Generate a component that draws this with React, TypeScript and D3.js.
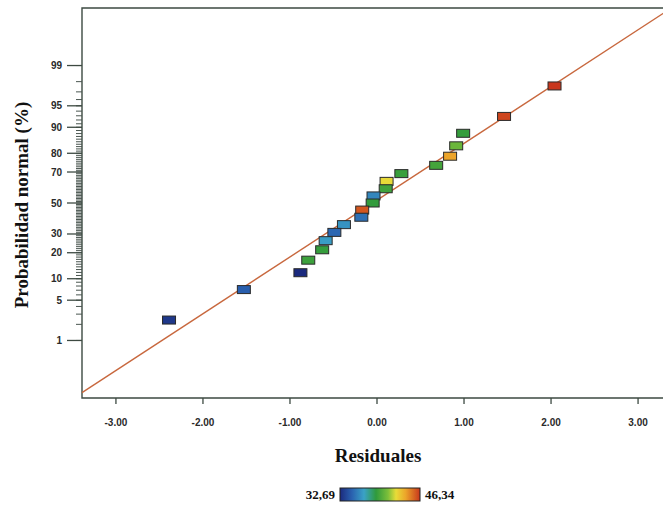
import React, { useRef, useEffect } from 'react'
import * as d3 from 'd3'

// residuals, already sorted (rank order)
const residuals = [-2.39, -1.53, -0.88, -0.79, -0.63, -0.59, -0.49, -0.38, -0.18, -0.17,
  -0.05, -0.04, 0.10, 0.11, 0.28, 0.68, 0.84, 0.91, 0.99, 1.46, 2.04]
// response value of each run (used for the colour of the marker)
const responses = [33.2, 34.6, 32.69, 39.2, 39.0, 36.6, 34.9, 36.3, 35.2, 45.6,
  38.9, 35.9, 39.3, 42.3, 39.1, 39.4, 43.9, 40.4, 39.0, 46.0, 46.34]

const xTicks = [-3, -2, -1, 0, 1, 2, 3]
const yMajorTicks = [1, 5, 10, 20, 30, 50, 70, 80, 90, 95, 99]
const yMinorTicks = d3.range(1, 100)

const colorMin = 32.69
const colorMax = 46.34
const colorStops = [0, 0.15, 0.3, 0.45, 0.6, 0.7, 0.82, 1]
const colorValues = ['#1b2a7e', '#2a62b0', '#3aa2c6', '#2f9a3c', '#7cbf3a', '#e8dc38', '#eca52a', '#c8361c']

// reference line  z = intercept + slope * residual
const lineSlope = 0.961
const lineIntercept = 0.048

const layout = { width: 663, height: 507, left: 82, top: 8, right: 672, bottom: 398 }

export default function App() {
  const ref = useRef<SVGSVGElement>(null)

  useEffect(() => {
    const svg = d3.select(ref.current)
    svg.selectAll('*').remove()

    const n = residuals.length
    const probit = (p: number) => inverseNormal(p)

    const x = d3.scaleLinear().domain([-3.39, 3.39]).range([layout.left, layout.right])
    const y = d3.scaleLinear().domain([-3.3, 3.3]).range([layout.bottom, layout.top])

    const color = d3.scaleLinear<string>()
      .domain(colorStops.map(t => colorMin + t * (colorMax - colorMin)))
      .range(colorValues)
      .interpolate(d3.interpolateRgb)

    const g = svg.append('g')

    // frame (right side runs past the picture edge)
    g.append('path')
      .attr('d', `M${layout.width + 20},${layout.top}H${layout.left}V${layout.bottom}H${layout.width + 20}`)
      .attr('fill', 'none').attr('stroke', '#3d4a42').attr('stroke-width', 1.4)

    // y ticks (probability scale)
    g.selectAll('.minor').data(yMinorTicks).join('line')
      .attr('x1', layout.left - 6).attr('x2', layout.left)
      .attr('y1', d => y(probit(d / 100))).attr('y2', d => y(probit(d / 100)))
      .attr('stroke', '#4a5650').attr('stroke-width', 1)
    g.selectAll('.major').data(yMajorTicks).join('line')
      .attr('x1', layout.left - 15).attr('x2', layout.left)
      .attr('y1', d => y(probit(d / 100))).attr('y2', d => y(probit(d / 100)))
      .attr('stroke', '#3d4a42').attr('stroke-width', 1.3)
    g.selectAll('.ylab').data(yMajorTicks).join('text')
      .attr('x', 62).attr('y', d => y(probit(d / 100)))
      .attr('dy', '0.35em').attr('text-anchor', 'end')
      .attr('font-family', 'Liberation Sans, Arial, sans-serif').attr('font-weight', 'bold')
      .attr('font-size', 10).attr('fill', '#2a2a2a')
      .text(d => d)

    // x ticks
    g.selectAll('.xtick').data(xTicks).join('line')
      .attr('x1', d => x(d)).attr('x2', d => x(d))
      .attr('y1', layout.bottom).attr('y2', layout.bottom + 6)
      .attr('stroke', '#3d4a42').attr('stroke-width', 1.3)
    g.selectAll('.xlab').data(xTicks).join('text')
      .attr('x', d => x(d)).attr('y', 426)
      .attr('text-anchor', 'middle')
      .attr('font-family', 'Liberation Sans, Arial, sans-serif').attr('font-weight', 'bold')
      .attr('font-size', 10).attr('fill', '#2a2a2a')
      .text(d => d.toFixed(2))

    // reference line
    const lineX = x.domain()
    g.append('path')
      .datum(lineX.map(r => [r, lineIntercept + lineSlope * r]))
      .attr('d', d3.line<number[]>().x(d => x(d[0])).y(d => y(d[1])))
      .attr('stroke', '#c8683e').attr('stroke-width', 1.4).attr('fill', 'none')

    // points
    const pts = residuals.map((r, i) => ({ r, z: probit((i + 0.5) / n), v: responses[i] })).reverse()
    g.selectAll('.pt').data(pts).join('rect')
      .attr('x', d => x(d.r) - 6.5).attr('y', d => y(d.z) - 4)
      .attr('width', 13).attr('height', 8)
      .attr('fill', d => color(d.v))
      .attr('stroke', '#2a2a2a').attr('stroke-width', 1)

    // axis titles
    g.append('text')
      .attr('transform', `translate(28, 205) rotate(-90)`)
      .attr('text-anchor', 'middle')
      .attr('font-family', 'Liberation Serif, Times New Roman, serif').attr('font-weight', 'bold')
      .attr('font-size', 19).attr('fill', '#111')
      .text('Probabilidad normal (%)')
    g.append('text')
      .attr('x', 378).attr('y', 462)
      .attr('text-anchor', 'middle')
      .attr('font-family', 'Liberation Serif, Times New Roman, serif').attr('font-weight', 'bold')
      .attr('font-size', 19).attr('fill', '#111')
      .text('Residuales')

    // colour legend
    const grad = svg.append('defs').append('linearGradient').attr('id', 'cbar')
    grad.selectAll('stop').data(colorStops).join('stop')
      .attr('offset', d => `${d * 100}%`)
      .attr('stop-color', (d, i) => colorValues[i])
    g.append('rect')
      .attr('x', 340).attr('y', 488).attr('width', 80).attr('height', 13)
      .attr('fill', 'url(#cbar)').attr('stroke', '#222').attr('stroke-width', 1)
    g.selectAll('.cl').data([colorMin, colorMax]).join('text')
      .attr('x', (d, i) => i === 0 ? 335 : 425).attr('y', 499)
      .attr('text-anchor', (d, i) => i === 0 ? 'end' : 'start')
      .attr('font-family', 'Liberation Serif, Times New Roman, serif').attr('font-weight', 'bold')
      .attr('font-size', 13).attr('fill', '#111')
      .text(d => d.toFixed(2).replace('.', ','))
  }, [])

  return (
    <svg ref={ref} width={layout.width} height={layout.height}
      style={{ position: 'absolute', left: 0, top: 0, background: '#fff' }} />
  )
}

// inverse standard normal CDF (Acklam's approximation)
function inverseNormal(p: number): number {
  const a = [-39.69683028665376, 220.9460984245205, -275.9285104469687, 138.357751867269, -30.66479806614716, 2.506628277459239]
  const b = [-54.47609879822406, 161.5858368580409, -155.6989798598866, 66.80131188771972, -13.28068155288572]
  const c = [-0.007784894002430293, -0.3223964580411365, -2.400758277161838, -2.549732539343734, 4.374664141464968, 2.938163982698783]
  const d = [0.007784695709041462, 0.3224671290700398, 2.445134137142996, 3.754408661907416]
  const pl = 0.02425
  if (p < pl) {
    const q = Math.sqrt(-2 * Math.log(p))
    return (((((c[0] * q + c[1]) * q + c[2]) * q + c[3]) * q + c[4]) * q + c[5]) / ((((d[0] * q + d[1]) * q + d[2]) * q + d[3]) * q + 1)
  }
  if (p > 1 - pl) {
    const q = Math.sqrt(-2 * Math.log(1 - p))
    return -(((((c[0] * q + c[1]) * q + c[2]) * q + c[3]) * q + c[4]) * q + c[5]) / ((((d[0] * q + d[1]) * q + d[2]) * q + d[3]) * q + 1)
  }
  const q = p - 0.5
  const r = q * q
  return (((((a[0] * r + a[1]) * r + a[2]) * r + a[3]) * r + a[4]) * r + a[5]) * q / (((((b[0] * r + b[1]) * r + b[2]) * r + b[3]) * r + b[4]) * r + 1)
}
